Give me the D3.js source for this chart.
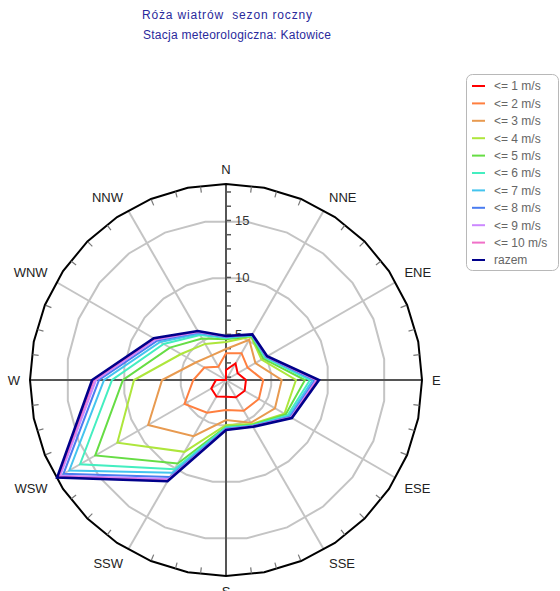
<!DOCTYPE html>
<html><head><meta charset="utf-8">
<script src="https://cdn.jsdelivr.net/npm/d3@7"></script>
<style>
body{margin:0;background:#fff}
svg{display:block}
text{font-family:"Liberation Sans",Arial,sans-serif}
</style>
</head><body>
<svg id="chart" width="560" height="591"></svg>
<script>
// ---------- data (frequency %, cumulative by speed class) ----------
const directions = ["N","NNE","ENE","E","ESE","SSE","S","SSW","WSW","W","WNW","NNW"];
const seriesNames = ["<= 1 m/s","<= 2 m/s","<= 3 m/s","<= 4 m/s","<= 5 m/s","<= 6 m/s","<= 7 m/s","<= 8 m/s","<= 9 m/s","<= 10 m/s","razem"];
const seriesColors = ["#ff0000","#ff7f3f","#e89a50","#aee63c","#66dd44","#44eec0","#44c4ee","#4a7cf0","#cc88ff","#f070c8","#00008b"];
const le1  = [1.88,2.67,2.18,2.75,2.89,2.75,2.46,2.67,2.49,1.88,0.90,0.90];
const le2  = [3.34,3.72,3.19,4.27,4.33,4.11,3.63,4.32,5.21,3.87,3.19,2.35];
const le3  = [3.72,5.07,3.98,5.89,5.96,5.34,4.51,6.70,8.89,6.61,4.07,3.49];
const le4  = [4.33,5.39,4.60,7.14,6.92,5.47,4.95,8.28,12.01,9.07,5.56,4.66];
const le5  = [4.57,5.47,4.77,7.93,7.05,5.56,5.10,9.46,14.25,10.04,6.68,5.21];
const le6  = [4.68,5.52,4.95,8.37,7.23,5.61,5.17,10.04,15.79,11.00,7.32,5.56];
const le7  = [4.75,5.56,5.04,8.61,7.36,5.65,5.25,10.39,16.88,11.70,7.67,5.69];
const le8  = [4.79,5.58,5.08,8.81,7.49,5.68,5.30,10.82,17.47,12.14,7.93,5.82];
const le9  = [4.82,5.60,5.12,8.94,7.58,5.70,5.33,11.04,17.80,12.40,8.11,5.87];
const le10 = [4.84,5.61,5.14,9.03,7.62,5.72,5.36,11.18,17.97,12.58,8.24,5.91];
const razem= [4.86,5.62,5.17,9.16,7.67,5.74,5.39,11.26,18.11,12.75,8.32,5.96];
const seriesValues = [le1,le2,le3,le4,le5,le6,le7,le8,le9,le10,razem];
const radialTicks = [5,10,15];
const minorStep = 1.25;
const titleLines = ["Róża wiatrów  sezon roczny","Stacja meteorologiczna: Katowice"];

// ---------- layout ----------
const cx = 226, cy = 380, R = 196;
const svg = d3.select("#chart");
const r = d3.scaleLinear().domain([1, 18.2]).range([0, R]).clamp(true);
const ang = d3.scaleLinear().domain([0, directions.length]).range([0, 2*Math.PI]);
const g = svg.append("g").attr("transform", `translate(${cx},${cy})`);

// title
const titleY = [19, 39], titleX = [227, 237], titleW = [170, 188];
svg.selectAll(".title").data(titleLines).join("text")
  .attr("class","title")
  .attr("x",(d,i)=>titleX[i]).attr("y",(d,i)=>titleY[i])
  .attr("text-anchor","middle")
  .attr("font-size",12).attr("fill","#2a2a9c")
  .style("white-space","pre")
  .attr("textLength",(d,i)=>titleW[i]).attr("lengthAdjust","spacing")
  .text(d=>d);

// polygonal rings
const polyPts = (n, off) => d3.range(n).map(k => (off + 360/n*k) * Math.PI/180);
const ringPts = polyPts(24, 7.5);
const polyLine = (pts, rad) => d3.lineRadial().angle(a=>a).radius(rad).curve(d3.curveLinearClosed)(pts);
g.selectAll(".ring").data(radialTicks).join("path")
  .attr("class","ring").attr("d", v => polyLine(ringPts, r(v)))
  .attr("fill","none").attr("stroke","#c4c4c4").attr("stroke-width",2);

// spokes
g.selectAll(".spoke").data(directions).join("line")
  .attr("class","spoke")
  .attr("x1",0).attr("y1",0)
  .attr("x2",(d,i)=>R*Math.sin(ang(i))).attr("y2",(d,i)=>-R*Math.cos(ang(i)))
  .attr("stroke",(d,i)=> i%3===0 ? "#555" : "#c4c4c4")
  .attr("stroke-width",2);

// outer boundary
g.append("path").attr("d", polyLine(polyPts(32, 0), R))
  .attr("fill","none").attr("stroke","#000").attr("stroke-width",2);

// outer ticks every 7.5 deg
const outerTicks = d3.range(48).filter(k => k%4 !== 0).map(k => k*7.5*Math.PI/180);
g.selectAll(".otick").data(outerTicks).join("line")
  .attr("x1",a=>(R-7)*Math.sin(a)).attr("y1",a=>-(R-7)*Math.cos(a))
  .attr("x2",a=>(R-1)*Math.sin(a)).attr("y2",a=>-(R-1)*Math.cos(a))
  .attr("stroke","#777").attr("stroke-width",1.2);

// radial axis ticks on N axis
const minor = d3.range(1, 15).map(k => k*minorStep);
g.selectAll(".rtick").data(minor).join("line")
  .attr("x1",0).attr("x2",5)
  .attr("y1",v=>-r(v)).attr("y2",v=>-r(v))
  .attr("stroke","#555").attr("stroke-width",1.5);
g.selectAll(".rlabel").data(radialTicks).join("text")
  .attr("x",9).attr("y",v=>-r(v)+4.5)
  .attr("font-size",13).attr("fill","#333")
  .text(d=>d);

// direction labels
const lr = R + 10;
g.selectAll(".dlabel").data(directions).join("text")
  .attr("class","dlabel")
  .attr("x",(d,i)=>lr*Math.sin(ang(i)))
  .attr("y",(d,i)=>{
    const c = Math.cos(ang(i)), y = -lr*c;
    if (c > 0.01) return y;
    if (c < -0.01) return y + 9.5;
    return y + 4.7;
  })
  .attr("text-anchor",(d,i)=>{
    const s = Math.sin(ang(i));
    return s > 0.01 ? "start" : (s < -0.01 ? "end" : "middle");
  })
  .attr("font-size",13).attr("fill","#222")
  .text(d=>d);

// data polygons
const radial = d3.lineRadial().angle((d,i)=>ang(i)).radius(d=>r(d)).curve(d3.curveLinearClosed);
g.selectAll(".series").data(seriesValues).join("path")
  .attr("class","series").attr("d", d=>radial(d))
  .attr("fill","none")
  .attr("stroke",(d,i)=>seriesColors[i])
  .attr("stroke-width",(d,i)=> i===seriesValues.length-1 ? 2.6 : 2)
  .attr("stroke-linejoin","miter");

// legend
const lg = svg.append("g");
lg.append("rect").attr("x",466.5).attr("y",74.5).attr("width",92).attr("height",196)
  .attr("rx",6).attr("fill","#fff").attr("stroke","#b8b8b8").attr("stroke-width",1);
const ly = i => 86 + i*17.4;
lg.selectAll(".lline").data(seriesNames).join("line")
  .attr("x1",472).attr("x2",485)
  .attr("y1",(d,i)=>ly(i)).attr("y2",(d,i)=>ly(i))
  .attr("stroke",(d,i)=>seriesColors[i]).attr("stroke-width",2);
lg.selectAll(".ltext").data(seriesNames).join("text")
  .attr("x",494).attr("y",(d,i)=>ly(i)+4.3)
  .attr("font-size",12).attr("fill","#666")
  .text(d=>d);
</script>
</body></html>
